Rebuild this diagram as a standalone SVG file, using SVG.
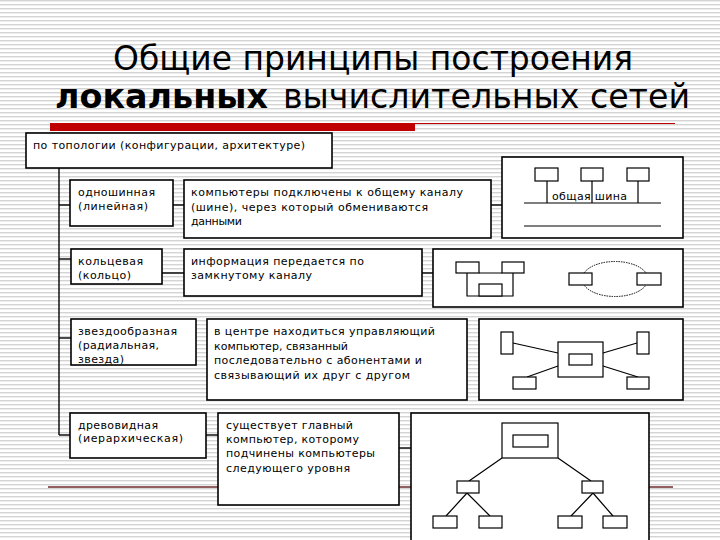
<svg xmlns="http://www.w3.org/2000/svg" width="720" height="540" viewBox="0 0 720 540">
<defs>
<pattern id="stripes" width="4" height="4" patternUnits="userSpaceOnUse">
<rect width="4" height="4" fill="#ffffff"/>
<rect y="0" width="4" height="1" fill="#d4d4d4"/>
<rect y="1" width="4" height="1" fill="#ededed"/>
</pattern>
<style>
.box{fill:#fff;stroke:#000;stroke-width:1.6}
.in{fill:#fff;stroke:#000;stroke-width:1.2}
.ln{fill:none;stroke:#000;stroke-width:1.2}
.con{fill:none;stroke:#000;stroke-width:1.4}
.t{font-family:"DejaVu Sans","Noto Sans",sans-serif;font-size:11px;fill:#000}
.title{font-family:"DejaVu Sans","Noto Sans",sans-serif;font-size:33px;fill:#000}
</style>
</defs>
<rect width="720" height="540" fill="url(#stripes)"/>

<g id="title">
<text class="title" x="113" y="70" textLength="520" lengthAdjust="spacingAndGlyphs">Общие принципы построения</text>
<text class="title" x="55" y="108" font-weight="bold" textLength="213" lengthAdjust="spacingAndGlyphs">локальных</text>
<text class="title" x="283" y="108" textLength="407" lengthAdjust="spacingAndGlyphs">вычислительных сетей</text>
<line x1="50" y1="123.5" x2="675" y2="123.5" stroke="#c00000" stroke-width="1"/>
<rect x="50" y="123" width="365" height="8" fill="#c00000"/>
<line x1="48" y1="487" x2="673" y2="487" stroke="#6e2b2b" stroke-width="1.5"/>
</g>

<g id="connectors">
<line class="con" x1="59" y1="168" x2="59" y2="435"/>
<line class="con" x1="59" y1="205" x2="70" y2="205"/>
<line class="con" x1="173" y1="205" x2="184" y2="205"/>
<line class="con" x1="491" y1="205" x2="502" y2="205"/>
<line class="con" x1="59" y1="259" x2="71" y2="259"/>
<line class="con" x1="162" y1="273" x2="184" y2="273"/>
<line class="con" x1="422" y1="273" x2="433" y2="273"/>
<line class="con" x1="59" y1="338" x2="71" y2="338"/>
<line class="con" x1="59" y1="435" x2="70" y2="435"/>
<line class="con" x1="206" y1="435" x2="218" y2="435"/>
<line class="con" x1="399" y1="448" x2="411" y2="448"/>
</g>

<g id="root">
<rect class="box" x="26" y="133" width="306" height="35"/>
<text class="t" x="33" y="149" textLength="272">по топологии (конфигурации, архитектуре)</text>
</g>

<g id="bus-name">
<rect class="box" x="70" y="180" width="103" height="46"/>
<text class="t" x="78" y="196" textLength="77">одношинная</text>
<text class="t" x="78" y="210" textLength="70">(линейная)</text>
</g>
<g id="bus-desc">
<rect class="box" x="184" y="180" width="307" height="58"/>
<text class="t" x="191" y="196" textLength="272">компьютеры подключены к общему каналу</text>
<text class="t" x="191" y="210.5" textLength="237">(шине), через который обмениваются</text>
<text class="t" x="191" y="225" textLength="51">данными</text>
</g>
<g id="bus-diagram">
<rect class="box" x="502" y="157" width="181" height="81"/>
<rect class="in" x="535" y="168" width="23" height="13"/>
<rect class="in" x="581" y="168" width="22" height="13"/>
<rect class="in" x="627" y="168" width="22" height="13"/>
<path class="ln" d="M547 181V203M592 181V203M638 181V203M524 203H661M524 226H661"/>
<text class="t" x="552" y="200" textLength="75">общая шина</text>
</g>

<g id="ring-name">
<rect class="box" x="71" y="249" width="91" height="35"/>
<text class="t" x="78" y="265" textLength="65">кольцевая</text>
<text class="t" x="78" y="279" textLength="53">(кольцо)</text>
</g>
<g id="ring-desc">
<rect class="box" x="184" y="249" width="238" height="47"/>
<text class="t" x="191" y="265" textLength="173">информация передается по</text>
<text class="t" x="191" y="279" textLength="121">замкнутому каналу</text>
</g>
<g id="ring-diagram">
<rect class="box" x="433" y="249" width="250" height="58"/>
<path class="ln" d="M467 273V296H513V273M479 273H502"/>
<rect class="in" x="456" y="262" width="23" height="11"/>
<rect class="in" x="502" y="262" width="22" height="11"/>
<rect class="in" x="479" y="284" width="23" height="12"/>
<ellipse cx="615" cy="279" rx="33" ry="17.5" fill="none" stroke="#000" stroke-width="1" stroke-dasharray="1.5 1"/>
<rect class="in" x="569" y="273" width="23" height="12"/>
<rect class="in" x="637" y="273" width="24" height="12"/>
</g>

<g id="star-name">
<rect class="box" x="71" y="319" width="125" height="46"/>
<text class="t" x="78" y="335" textLength="99">звездообразная</text>
<text class="t" x="78" y="349" textLength="81">(радиальная,</text>
<text class="t" x="78" y="363" textLength="46">звезда)</text>
</g>
<g id="star-desc">
<rect class="box" x="207" y="319" width="260" height="81"/>
<text class="t" x="214" y="335" textLength="221">в центре находиться управляющий</text>
<text class="t" x="214" y="349.5" textLength="134">компьютер, связанный</text>
<text class="t" x="214" y="364" textLength="208">последовательно с абонентами и</text>
<text class="t" x="214" y="378.5" textLength="196">связывающий их друг с другом</text>
</g>
<g id="star-diagram">
<rect class="box" x="479" y="319" width="204" height="81"/>
<path class="ln" d="M513 343L558 353M637 343L603 353M527 377L558 366M603 366L638 377"/>
<rect class="in" x="558" y="342" width="45" height="35"/>
<rect class="in" x="569" y="354" width="23" height="11"/>
<rect class="in" x="501" y="332" width="12" height="22"/>
<rect class="in" x="637" y="332" width="12" height="22"/>
<rect class="in" x="513" y="377" width="23" height="12"/>
<rect class="in" x="627" y="377" width="22" height="12"/>
</g>

<g id="tree-name">
<rect class="box" x="70" y="413" width="136" height="45"/>
<text class="t" x="78" y="429" textLength="80">древовидная</text>
<text class="t" x="78" y="442" textLength="105">(иерархическая)</text>
</g>
<g id="tree-desc">
<rect class="box" x="218" y="413" width="181" height="92"/>
<text class="t" x="226" y="429" textLength="127">существует главный</text>
<text class="t" x="226" y="443" textLength="133">компьютер, которому</text>
<text class="t" x="226" y="457" textLength="149">подчинены компьютеры</text>
<text class="t" x="226" y="471.5" textLength="124">следующего уровня</text>
</g>
<g id="tree-diagram">
<rect class="box" x="411" y="413" width="238" height="140"/>
<path class="ln" d="M502 458L469 481M558 458L591 481M467 493L446 516M467 493L490 516M593 493L571 516M593 493L613 516"/>
<rect class="in" x="502" y="423" width="56" height="35"/>
<rect class="in" x="513" y="435" width="35" height="12"/>
<rect class="in" x="457" y="481" width="22" height="12"/>
<rect class="in" x="582" y="481" width="21" height="12"/>
<rect class="in" x="433" y="516" width="24" height="12"/>
<rect class="in" x="479" y="516" width="23" height="12"/>
<rect class="in" x="558" y="516" width="24" height="12"/>
<rect class="in" x="603" y="516" width="24" height="12"/>
</g>
</svg>
